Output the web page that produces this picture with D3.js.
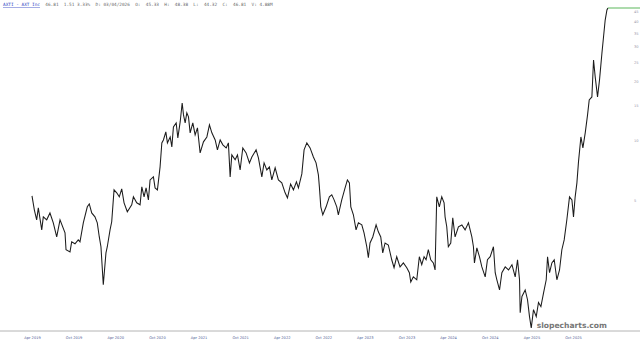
<!DOCTYPE html>
<html>
<head>
<meta charset="utf-8">
<script src="https://cdnjs.cloudflare.com/ajax/libs/d3/7.8.5/d3.min.js"></script>
<style>
  html, body { margin: 0; padding: 0; background: #fff; }
  svg { display: block; }
</style>
</head>
<body>
<svg></svg>
<script>
// AXTI daily closes, sampled off the chart (decimal year -> price)
var years = [
  2019.25, 2019.278, 2019.306, 2019.326, 2019.367, 2019.386, 2019.427, 2019.466, 2019.506, 2019.547,
  2019.587, 2019.647, 2019.659, 2019.707, 2019.727, 2019.767, 2019.806, 2019.827, 2019.867, 2019.915,
  2019.939, 2019.968, 2020.007, 2020.035, 2020.059, 2020.079, 2020.107, 2020.139, 2020.155, 2020.188,
  2020.208, 2020.236, 2020.268, 2020.299, 2020.328, 2020.356, 2020.395, 2020.448, 2020.468, 2020.508,
  2020.548, 2020.569, 2020.596, 2020.620, 2020.648, 2020.668, 2020.708, 2020.728, 2020.756, 2020.788,
  2020.809, 2020.828, 2020.857, 2020.876, 2020.909, 2020.929, 2020.948, 2020.981, 2021.001, 2021.029,
  2021.053, 2021.069, 2021.089, 2021.109, 2021.129, 2021.149, 2021.181, 2021.209, 2021.237, 2021.269,
  2021.309, 2021.350, 2021.381, 2021.410, 2021.450, 2021.477, 2021.510, 2021.542, 2021.582, 2021.609,
  2021.630, 2021.650, 2021.690, 2021.718, 2021.750, 2021.782, 2021.822, 2021.862, 2021.891, 2021.942,
  2021.970, 2022.011, 2022.038, 2022.071, 2022.102, 2022.131, 2022.171, 2022.210, 2022.251, 2022.291,
  2022.319, 2022.357, 2022.391, 2022.427, 2022.451, 2022.492, 2022.519, 2022.552, 2022.591, 2022.631,
  2022.663, 2022.691, 2022.703, 2022.720, 2022.744, 2022.784, 2022.823, 2022.852, 2022.880, 2022.912,
  2022.931, 2022.972, 2023.012, 2023.040, 2023.064, 2023.081, 2023.112, 2023.144, 2023.172, 2023.213,
  2023.240, 2023.273, 2023.292, 2023.312, 2023.345, 2023.385, 2023.412, 2023.441, 2023.465, 2023.493,
  2023.532, 2023.573, 2023.601, 2023.633, 2023.673, 2023.713, 2023.754, 2023.785, 2023.802, 2023.833,
  2023.874, 2023.905, 2023.934, 2023.962, 2023.986, 2024.013, 2024.042, 2024.073, 2024.094, 2024.102,
  2024.114, 2024.145, 2024.174, 2024.202, 2024.214, 2024.234, 2024.253, 2024.282, 2024.306, 2024.334,
  2024.374, 2024.415, 2024.454, 2024.494, 2024.535, 2024.554, 2024.566, 2024.595, 2024.626, 2024.655,
  2024.695, 2024.722, 2024.755, 2024.794, 2024.815, 2024.835, 2024.867, 2024.895, 2024.935, 2024.975,
  2025.016, 2025.055, 2025.083, 2025.107, 2025.115, 2025.136, 2025.175, 2025.203, 2025.227, 2025.248,
  2025.275, 2025.308, 2025.335, 2025.364, 2025.396, 2025.428, 2025.444, 2025.468, 2025.496, 2025.524,
  2025.556, 2025.588, 2025.616, 2025.644, 2025.676, 2025.708, 2025.737, 2025.756, 2025.776, 2025.797,
  2025.816, 2025.845, 2025.869, 2025.897, 2025.925, 2025.945, 2025.977, 2025.997, 2026.017, 2026.045,
  2026.069, 2026.098, 2026.117, 2026.137, 2026.158, 2026.170
];

var closes = [
  5.26, 4.47, 3.98, 4.57, 3.54, 4.12, 3.98, 4.31, 3.84, 3.26,
  3.98, 3.42, 2.81, 2.74, 3.08, 3.01, 3.15, 3.08, 3.84, 4.63,
  4.79, 4.31, 4.12, 3.84, 3.26, 2.91, 1.87, 2.71, 2.91, 3.54,
  3.89, 5.64, 5.45, 5.20, 5.70, 4.85, 4.37, 4.74, 5.20, 4.85,
  4.74, 5.84, 5.20, 5.77, 5.02, 6.33, 6.56, 5.77, 5.64, 7.37,
  9.74, 10.08, 11.07, 9.74, 10.44, 9.30, 11.73, 12.29, 10.32, 12.43,
  15.50, 13.49, 12.29, 13.80, 13.18, 10.95, 12.29, 10.69, 11.60, 8.67,
  9.86, 10.44, 12.01, 10.95, 10.08, 8.98, 10.08, 9.52, 9.19, 9.74,
  6.56, 8.47, 8.00, 8.47, 7.11, 9.19, 8.67, 7.72, 8.27, 8.98,
  8.18, 6.56, 7.72, 7.11, 7.37, 6.33, 7.29, 6.33, 6.12, 5.45,
  5.14, 6.04, 5.64, 6.19, 5.77, 6.79, 8.98, 9.74, 9.19, 8.27,
  7.72, 6.71, 5.84, 4.63, 4.22, 4.63, 5.20, 5.32, 5.02, 4.63,
  4.22, 5.02, 5.77, 6.33, 6.12, 4.63, 4.22, 3.54, 3.84, 3.75,
  3.42, 2.91, 2.56, 3.04, 3.26, 3.75, 3.46, 3.26, 2.71, 3.04,
  2.97, 2.50, 2.28, 2.59, 2.30, 2.41, 2.28, 2.15, 1.93, 2.05,
  1.98, 2.59, 2.36, 2.59, 2.50, 2.81, 2.50, 2.41, 2.22, 3.15,
  5.20, 4.63, 5.20, 4.85, 4.12, 3.67, 2.91, 3.04, 4.07, 3.26,
  3.67, 3.75, 3.54, 3.84, 3.26, 2.91, 2.41, 2.87, 2.59, 2.30,
  2.05, 2.50, 2.59, 2.91, 2.15, 1.98, 1.76, 2.15, 2.30, 2.22,
  2.36, 2.05, 2.50, 1.98, 1.35, 1.63, 1.76, 1.57, 1.29, 1.13,
  1.40, 1.29, 1.52, 1.45, 1.70, 1.98, 2.59, 2.15, 2.41, 2.50,
  1.98, 2.22, 2.81, 3.15, 3.98, 5.20, 5.02, 4.12, 5.20, 6.12,
  7.81, 10.44, 9.19, 10.95, 13.49, 16.05, 16.63, 25.56, 20.99, 16.63,
  20.27, 27.74, 33.41, 40.69, 45.74, 46.81
];

var tickYears = [2019.25, 2019.75, 2020.25, 2020.75, 2021.25, 2021.75, 2022.25,
                 2022.75, 2023.25, 2023.75, 2024.25, 2024.75, 2025.25, 2025.75];
var priceTicks = [5, 10, 15, 20, 25, 30, 35, 40, 45];
var header = "AXTI - AXT Inc";
var quote = "46.81  1.51 3.33%  D: 03/04/2026  O:  45.33  H:  48.38  L:  44.32  C:  46.81  V: 4.88M";

function toDate(t) {
  var y = Math.floor(t);
  var start = new Date(y, 0, 1), end = new Date(y + 1, 0, 1);
  return new Date(+start + (t - y) * (end - start));
}

document.addEventListener("DOMContentLoaded", function() {
  var data = years.map(function(t, i) { return { date: toDate(t), value: closes[i] }; });
  drawChart(data);
});

function drawChart(data) {
  var svgWidth = 640, svgHeight = 342;

  var svg = d3.select("svg")
    .attr("width", svgWidth)
    .attr("height", svgHeight);

  var x = d3.scaleTime()
    .domain([toDate(2019.25), toDate(2025.75)])
    .range([32, 573]);
  var y = d3.scaleLog()
    .domain([1.13, 46.81])
    .range([328, 8]);

  // bottom axis
  svg.append("line")
    .attr("x1", 0).attr("x2", svgWidth)
    .attr("y1", 331).attr("y2", 331)
    .attr("stroke", "#b4b4b4")
    .attr("stroke-width", 1);

  var xAxis = svg.append("g")
    .attr("transform", "translate(0,331)")
    .call(d3.axisBottom(x)
      .tickValues(tickYears.map(toDate))
      .tickSize(0)
      .tickPadding(5)
      .tickFormat(d3.timeFormat("%b %Y")));
  xAxis.select(".domain").remove();
  xAxis.selectAll("text")
    .attr("font-family", "DejaVu Sans, sans-serif")
    .attr("font-size", 3.6)
    .attr("fill", "#4d5a94");

  // right price axis
  var yAxis = svg.append("g")
    .attr("transform", "translate(632,0)")
    .call(d3.axisRight(y)
      .tickValues(priceTicks)
      .tickSize(0)
      .tickPadding(2)
      .tickFormat(d3.format("d")));
  yAxis.select(".domain").remove();
  yAxis.selectAll("text")
    .attr("font-family", "DejaVu Sans, sans-serif")
    .attr("font-size", 3.6)
    .attr("fill", "#9a9aaa");

  // price line
  var line = d3.line()
    .x(function(d) { return x(d.date); })
    .y(function(d) { return y(d.value); });

  svg.append("path")
    .datum(data)
    .attr("fill", "none")
    .attr("stroke", "#1c1c1c")
    .attr("stroke-width", 1.05)
    .attr("stroke-linejoin", "miter")
    .attr("d", line);

  // last price marker
  var last = data[data.length - 1];
  svg.append("line")
    .attr("x1", x(last.date)).attr("x2", svgWidth)
    .attr("y1", y(last.value)).attr("y2", y(last.value))
    .attr("stroke", "#5cb85c")
    .attr("stroke-width", 1.2);

  // header
  var head = svg.append("text")
    .attr("x", 3)
    .attr("y", 6)
    .attr("font-family", "DejaVu Sans Mono, monospace")
    .attr("font-size", 4.4)
    .attr("xml:space", "preserve");
  head.append("tspan")
    .attr("fill", "#3346c4")
    .attr("text-decoration", "underline")
    .text(header);
  head.append("tspan")
    .attr("fill", "#6a6a6a")
    .text("  " + quote);

  svg.append("text")
    .attr("x", 607)
    .attr("y", 328)
    .attr("text-anchor", "end")
    .attr("font-family", "DejaVu Sans, sans-serif")
    .attr("font-size", 7.6)
    .attr("font-weight", "bold")
    .attr("fill", "#777")
    .text("slopecharts.com");
}
</script>
</body>
</html>
